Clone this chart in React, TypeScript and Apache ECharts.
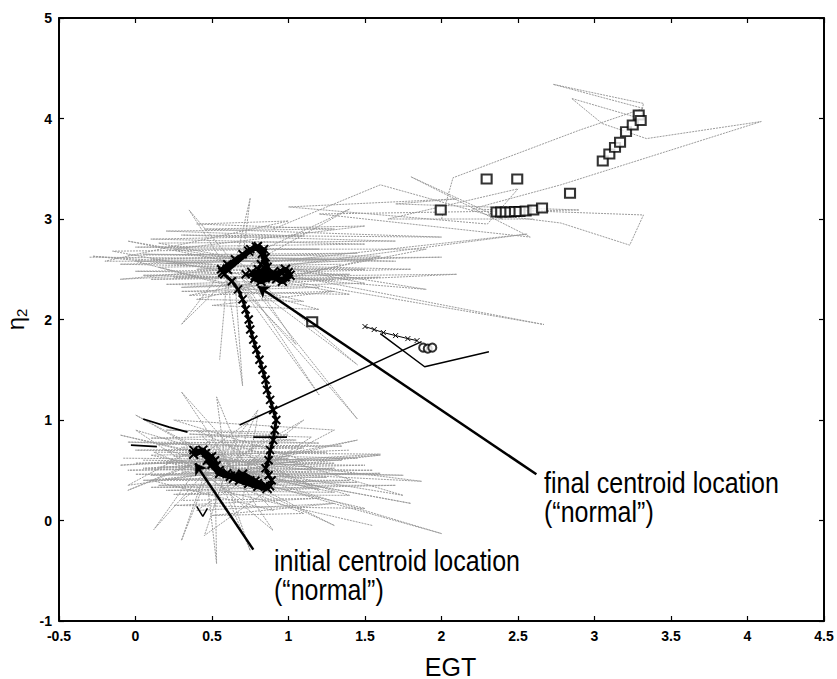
import React, { useEffect, useRef } from "react";
import * as echarts from "echarts";

// Axis ranges / ticks
const xMin = -0.5, xMax = 4.5, xStep = 0.5;
const yMin = -1, yMax = 5, yStep = 1;

// Gray trajectory clutter
const lowerGrayHatch: number[][] = [
  [-0.08, 0.62], [1.35, 0.6], [0.0, 0.57], [1.5, 0.55], [-0.05, 0.5], [1.3, 0.52], [0.1, 0.45], [1.6, 0.47],
  [0.05, 0.4], [1.4, 0.4], [0.15, 0.35], [1.7, 0.35], [0.2, 0.3], [1.3, 0.28], [0.1, 0.65], [1.25, 0.68],
  [0.0, 0.7], [1.1, 0.72], [-0.05, 0.78], [1.2, 0.77], [0.1, 0.82], [1.0, 0.85], [0.2, 0.9], [0.9, 0.88],
  [0.3, 0.2], [1.2, 0.22], [0.25, 0.15], [1.5, 0.12], [0.2, 0.58], [1.45, 0.62], [0.3, 0.66], [1.15, 0.5],
];
const lowerGrayHatch2: number[][] = [
  [0.05, 0.6], [1.3, 0.57], [0.15, 0.53], [1.55, 0.5], [0.0, 0.46], [1.25, 0.43], [0.2, 0.41], [1.45, 0.38],
  [0.1, 0.33], [1.2, 0.32], [0.25, 0.26], [1.4, 0.25], [0.3, 0.73], [1.35, 0.74], [0.15, 0.76], [1.05, 0.8],
  [0.35, 0.86], [1.15, 0.83], [0.4, 0.1], [1.3, 0.17], [0.5, 0.05], [1.1, 0.07], [0.12, 0.68], [1.6, 0.66],
  [0.05, 0.52], [1.75, 0.45], [0.3, 0.48], [1.0, 0.62], [0.25, 0.64], [1.4, 0.7],
];
const lowerGrayRays: number[][] = [
  [0.6, 0.6], [-0.1, 0.55], [0.5, 0.62], [0.0, 1.05], [0.62, 0.55], [0.3, 1.28], [0.7, 0.6], [0.53, 1.23],
  [0.58, 0.66], [0.8, 1.1], [0.66, 0.62], [1.1, 1.0], [0.72, 0.55], [1.45, 0.8], [0.76, 0.6], [1.87, 0.39],
  [0.7, 0.48], [1.8, 0.17], [0.62, 0.5], [2.0, -0.13], [0.66, 0.44], [1.3, -0.05], [0.58, 0.45], [0.75, -0.3],
  [0.52, 0.52], [0.53, -0.43], [0.46, 0.5], [0.3, -0.2], [0.5, 0.56], [0.12, -0.09], [0.45, 0.62],
  [-0.05, 0.3], [0.52, 0.64], [-0.1, 0.85], [0.64, 0.58],
];
const lowerGrayWalk: number[][] = [
  [0.2, 0.7], [1.2, 0.3], [0.4, 0.9], [0.9, 0.1], [0.1, 0.4], [1.6, 0.65], [0.3, 0.5], [0.8, 1.05],
  [0.7, 0.2], [0.0, 0.9], [1.0, 0.45], [0.45, -0.15], [0.65, 0.75], [1.75, 0.25], [0.35, 0.6], [0.9, -0.1],
  [0.5, 0.8], [-0.05, 0.35], [1.1, 0.6], [0.25, 1.0], [1.3, 0.9], [0.55, 0.3], [1.55, -0.05],
];
const upperGrayHatch: number[][] = [
  [-0.3, 2.62], [1.3, 2.6], [-0.1, 2.55], [1.5, 2.5], [0.0, 2.48], [1.4, 2.45], [0.1, 2.4], [1.6, 2.42],
  [0.2, 2.35], [1.2, 2.32], [0.3, 2.28], [1.4, 2.25], [-0.15, 2.68], [1.2, 2.7], [0.0, 2.72], [1.5, 2.75],
  [0.1, 2.8], [1.1, 2.83], [0.2, 2.88], [1.3, 2.9], [0.4, 2.95], [1.0, 2.98], [-0.2, 2.58], [1.7, 2.58],
  [0.05, 2.65], [1.6, 2.63], [0.4, 2.2], [1.1, 2.18], [0.15, 2.52], [1.35, 2.55],
];
const upperGrayHatch2: number[][] = [
  [-0.05, 2.64], [1.45, 2.66], [0.1, 2.6], [2.0, 2.62], [0.2, 2.56], [1.8, 2.5], [0.05, 2.44], [1.3, 2.4],
  [0.25, 2.42], [2.1, 2.45], [0.3, 2.32], [1.5, 2.36], [0.15, 2.76], [1.7, 2.78], [0.3, 2.84], [2.0, 2.82],
  [0.45, 2.9], [1.5, 2.93], [0.25, 2.7], [1.9, 2.7], [0.35, 2.24], [1.3, 2.28], [0.5, 2.14], [1.2, 2.1],
  [0.0, 2.58], [1.55, 2.6], [0.4, 2.5], [1.25, 2.5],
];
const upperGrayRays: number[][] = [
  [0.5, 2.55], [-0.28, 2.63], [0.6, 2.5], [0.35, 3.09], [0.65, 2.55], [0.75, 3.21], [0.7, 2.6], [1.4, 3.1],
  [0.75, 2.55], [2.56, 2.85], [0.8, 2.5], [2.67, 1.95], [0.75, 2.45], [1.45, 1.55], [0.7, 2.4], [1.2, 1.25],
  [0.65, 2.4], [0.7, 1.34], [0.6, 2.4], [0.3, 1.95], [0.55, 2.45], [-0.1, 2.4], [0.6, 2.5], [1.45, 1.01],
  [0.7, 2.45], [1.9, 2.3], [0.65, 2.6], [-0.05, 2.78], [0.7, 2.55], [1.05, 1.75], [0.6, 2.45], [0.55, 1.6],
];
const upperGrayBridge: number[][] = [
  [0.9, 2.9], [1.6, 3.34], [2.4, 3.0], [1.8, 3.42], [2.58, 2.82], [1.2, 3.05], [2.9, 3.09], [1.7, 3.15],
  [2.1, 3.2], [1.0, 3.12], [2.3, 2.95], [2.5, 3.3], [1.65, 3.0], [2.6, 3.0],
];
const upperRightGray: number[][] = [
  [2.0, 3.0], [2.075, 3.41], [2.905, 3.886], [3.32, 4.1], [2.73, 4.34], [3.32, 4.15], [3.3, 4.0],
  [2.85, 4.2], [3.05, 3.95], [3.34, 3.8], [4.09, 3.97], [2.78, 3.34], [2.2, 3.1], [2.78, 3.07],
  [3.32, 3.04], [3.23, 2.74], [2.78, 2.96], [2.3, 3.05],
];

// Centroid trajectory (black x markers)
const centroidPath: number[][] = [
  [0.38, 0.7], [0.42, 0.68], [0.46, 0.67], [0.5, 0.64], [0.52, 0.6], [0.53, 0.55], [0.55, 0.5], [0.6, 0.47],
  [0.65, 0.45], [0.7, 0.43], [0.75, 0.4], [0.8, 0.37], [0.85, 0.35], [0.88, 0.34], [0.89, 0.4], [0.87, 0.45],
  [0.85, 0.52], [0.87, 0.6], [0.88, 0.7], [0.9, 0.8], [0.91, 0.9], [0.92, 1.0], [0.9, 1.1], [0.88, 1.2],
  [0.86, 1.3], [0.85, 1.4], [0.83, 1.5], [0.81, 1.6], [0.79, 1.7], [0.77, 1.8], [0.75, 1.9], [0.74, 2.0],
  [0.72, 2.1], [0.7, 2.2], [0.67, 2.3], [0.63, 2.38], [0.58, 2.45], [0.56, 2.5], [0.6, 2.55], [0.65, 2.6],
  [0.7, 2.65], [0.75, 2.7], [0.8, 2.73], [0.84, 2.7], [0.85, 2.62], [0.82, 2.55], [0.8, 2.5], [0.85, 2.48],
  [0.9, 2.47], [0.95, 2.48], [1.0, 2.47], [0.98, 2.42], [0.92, 2.4], [0.85, 2.41], [0.78, 2.43], [0.72, 2.45],
];
// Dense blobs at the start and end of the centroid trajectory
const initialBlob: number[][] = [
  [0.38, 0.66], [0.44, 0.7], [0.48, 0.62], [0.5, 0.56], [0.47, 0.6], [0.55, 0.47], [0.62, 0.44], [0.68, 0.4],
  [0.74, 0.37], [0.8, 0.34], [0.86, 0.32], [0.78, 0.39], [0.7, 0.46], [0.64, 0.42],
];
const finalBlob: number[][] = [
  [0.76, 2.47], [0.84, 2.45], [0.92, 2.44], [0.98, 2.5], [1.01, 2.44], [0.96, 2.38], [0.9, 2.43],
  [0.82, 2.38], [0.78, 2.41], [0.86, 2.52], [0.83, 2.66], [0.79, 2.72], [0.74, 2.68], [0.6, 2.5], [0.57, 2.47],
];
const sideTrail: number[][] = [
  [1.5, 1.93], [1.56, 1.9], [1.62, 1.87], [1.7, 1.84], [1.78, 1.81], [1.84, 1.79],
];

// Black thin lines
const blackLineLong: number[][] = [[0.68, 0.95], [1.87, 1.78]];
const blackLineBend: number[][] = [[1.6, 1.86], [1.89, 1.53], [2.31, 1.68]];
const blackSeg1: number[][] = [[0.05, 1.01], [0.22, 0.93], [0.34, 0.88]];
const blackSeg2: number[][] = [[-0.03, 0.75], [0.14, 0.735]];
const blackSeg3: number[][] = [[0.77, 0.83], [0.99, 0.83]];
const blackSeg4: number[][] = [[0.4, 0.14], [0.44, 0.04], [0.47, 0.12]];

// Cluster markers
const squares: number[][] = [
  [1.155, 1.978], [1.995, 3.09], [2.295, 3.398], [2.495, 3.398],
  [2.36, 3.07], [2.39, 3.07], [2.42, 3.07], [2.45, 3.07], [2.48, 3.075], [2.51, 3.075],
  [2.55, 3.08], [2.6, 3.09], [2.657, 3.11], [2.84, 3.256],
  [3.054, 3.577], [3.097, 3.647], [3.134, 3.713], [3.167, 3.763], [3.206, 3.869],
  [3.25, 3.935], [3.289, 4.035], [3.302, 3.98],
];
const circles: number[][] = [[1.88, 1.72], [1.91, 1.71], [1.94, 1.72]];

// Arrows: [tail, head]
const finalArrow: number[][] = [[2.62, 0.46], [0.8, 2.33]];
const initialArrow: number[][] = [[0.77, -0.29], [0.39, 0.57]];

// Plot frame (box around the axes' full range)
const frameBox: number[][] = [[xMin, yMin], [xMin, yMax], [xMax, yMax], [xMax, yMin], [xMin, yMin]];

const FONT = "'Liberation Sans', Arial, Helvetica, sans-serif";
const GRAY = "#9c9c9c";

function buildOption() {
  const axisCommon = {
    type: "value" as const,
    axisLine: { show: true, onZero: false, lineStyle: { color: "#000", width: 1.5 } },
    axisTick: { show: true, inside: true, length: 5, lineStyle: { color: "#000", width: 1.2 } },
    splitLine: { show: false },
  };
  const gray = (data: number[][]) => ({
    type: "line", data, showSymbol: false, symbol: "none", clip: false,
    lineStyle: { color: GRAY, width: 1, type: [2, 1] }, z: 1,
  });
  const black = (data: number[][], w = 1.5) => ({
    type: "line", data, showSymbol: false, symbol: "none", clip: false,
    lineStyle: { color: "#000", width: w }, z: 3,
  });
  const xSym = "path://M0,0L10,10M10,0L0,10";
  return {
    animation: false,
    grid: { left: 59, right: 13, top: 18, bottom: 58, outerBoundsMode: "none", show: true, borderColor: "#000", borderWidth: 1.5 },
    xAxis: [
      {
        ...axisCommon, min: xMin, max: xMax, interval: xStep, position: "bottom",
        axisLabel: { color: "#000", fontSize: 14, fontWeight: "bold", fontFamily: FONT, margin: 8 },
        name: "EGT", nameLocation: "middle", nameGap: 33,
        nameTextStyle: { fontSize: 25, color: "#000", fontFamily: FONT, padding: [0, 0, 0, 18] },
      },
      {
        ...axisCommon, min: xMin, max: xMax, interval: xStep, position: "top",
        axisLabel: { show: true, formatter: () => "" },
      },
    ],
    yAxis: [
      {
        ...axisCommon, min: yMin, max: yMax, interval: yStep, position: "left",
        axisLabel: { color: "#000", fontSize: 14, fontWeight: "bold", fontFamily: FONT, margin: 7 },
        name: "η{s|2}", nameLocation: "middle", nameGap: 26,
        nameTextStyle: {
          fontSize: 24, color: "#000", fontFamily: FONT,
          rich: { s: { fontSize: 15, color: "#000", fontFamily: FONT, verticalAlign: "bottom", padding: [12, 0, 0, 0] } },
        },
      },
      {
        ...axisCommon, min: yMin, max: yMax, interval: yStep, position: "right",
        axisLabel: { show: true, formatter: () => "" },
      },
    ],
    series: [
      gray(lowerGrayHatch), gray(lowerGrayHatch2), gray(lowerGrayRays), gray(lowerGrayWalk),
      gray(upperGrayHatch), gray(upperGrayHatch2), gray(upperGrayRays), gray(upperGrayBridge), gray(upperRightGray),
      black(blackLineLong, 1.5), black(blackLineBend, 1.5),
      black(blackSeg1, 1.8), black(blackSeg2, 1.8), black(blackSeg3, 1.8), black(blackSeg4, 1.5),
      {
        type: "line", data: centroidPath, symbol: xSym, symbolSize: 8, showSymbol: true, clip: false,
        lineStyle: { color: "#000", width: 3 }, itemStyle: { color: "#000", borderColor: "#000", borderWidth: 2 }, z: 4,
      },
      {
        type: "line", data: initialBlob, symbol: xSym, symbolSize: 9, showSymbol: true, clip: false,
        lineStyle: { color: "#000", width: 6 }, itemStyle: { color: "#000", borderColor: "#000", borderWidth: 2 }, z: 4,
      },
      {
        type: "line", data: finalBlob, symbol: xSym, symbolSize: 9, showSymbol: true, clip: false,
        lineStyle: { color: "#000", width: 6 }, itemStyle: { color: "#000", borderColor: "#000", borderWidth: 2 }, z: 4,
      },
      {
        type: "line", data: sideTrail, symbol: xSym, symbolSize: 5, showSymbol: true, clip: false,
        lineStyle: { color: "#000", width: 1 }, itemStyle: { color: "#000", borderColor: "#000", borderWidth: 1 }, z: 4,
      },
      {
        type: "scatter", data: squares, symbol: "rect", symbolSize: [10, 9], clip: false,
        itemStyle: { color: "#fff", borderColor: "#000", borderWidth: 2 }, z: 5,
      },
      {
        type: "scatter", data: circles, symbol: "circle", symbolSize: 8, clip: false,
        itemStyle: { color: "#fff", borderColor: "#000", borderWidth: 2 }, z: 5,
      },
      {
        type: "lines", coordinateSystem: "cartesian2d", z: 6, clip: false,
        symbol: ["none", "arrow"], symbolSize: 11,
        lineStyle: { color: "#000", width: 2.5, opacity: 1 },
        data: [{ coords: finalArrow }, { coords: initialArrow }],
      },
      {
        type: "line", data: frameBox, showSymbol: false, symbol: "none", clip: false,
        lineStyle: { color: "#000", width: 1.5 }, z: 10,
      },
    ],
    graphic: [
      {
        type: "text", x: 544, y: 468, scaleY: 1.2, z: 10,
        style: { text: "final centroid location\n(“normal”)", fontSize: 25, lineHeight: 24, fontFamily: FONT, fill: "#000", verticalAlign: "top" },
      },
      {
        type: "text", x: 274, y: 546, scaleY: 1.2, z: 10,
        style: { text: "initial centroid location\n(“normal”)", fontSize: 25, lineHeight: 24, fontFamily: FONT, fill: "#000", verticalAlign: "top" },
      },
    ],
  };
}

function Chart() {
  const ref = useRef<HTMLDivElement>(null);
  useEffect(() => {
    const chart = echarts.init(ref.current!, null, { renderer: "svg" });
    chart.setOption(buildOption() as any);
    return () => chart.dispose();
  }, []);
  return <div ref={ref} style={{ width: 837, height: 679 }} />;
}

export default function App() {
  useEffect(() => { document.body.style.margin = "0"; }, []);
  return (
    <div style={{ width: 837 }}>
      <Chart />
    </div>
  );
}
